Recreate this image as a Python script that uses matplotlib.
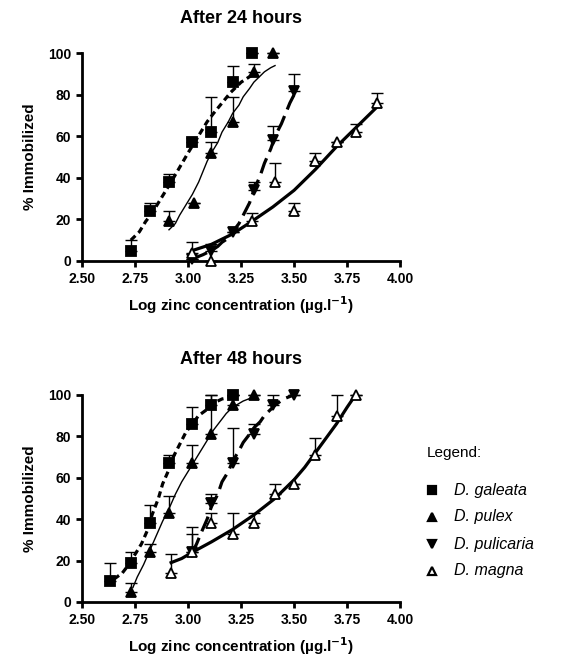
import matplotlib.pyplot as plt

plt.rcParams['font.family'] = ['Liberation Sans', 'DejaVu Sans']

species = ["D. galeata", "D. pulex", "D. pulicaria", "D. magna"]

# ---- After 24 hours: observed points (x, % immobilized, upper error) ----
g24_x = [2.73, 2.82, 2.91, 3.02, 3.11, 3.21, 3.30]
g24_y = [5, 24, 38, 57, 62, 86, 100]
g24_e = [5, 4, 4, 2, 17, 8, 0]
p24_x = [2.91, 3.03, 3.11, 3.21, 3.31, 3.40]
p24_y = [19, 28, 52, 67, 91, 100]
p24_e = [5, 0, 5, 12, 4, 0]
pc24_x = [3.02, 3.11, 3.21, 3.31, 3.40, 3.50]
pc24_y = [1, 5, 14, 34, 58, 82]
pc24_e = [0, 3, 0, 4, 7, 8]
m24_x = [3.02, 3.11, 3.30, 3.41, 3.50, 3.60, 3.70, 3.79, 3.89]
m24_y = [4, 0, 19, 38, 24, 48, 57, 62, 76]
m24_e = [5, 0, 4, 9, 4, 4, 0, 4, 5]

# fitted curves
g24_cx = [2.73, 2.77, 2.80, 2.83, 2.86, 2.89, 2.92, 2.96, 3.00, 3.03, 3.06, 3.09, 3.12, 3.16, 3.20, 3.25, 3.31]
g24_cy = [10, 14, 19, 23, 28, 33, 38, 45, 52, 57, 62, 67, 71, 76, 81, 86, 90]
p24_cx = [2.91, 2.94, 2.96, 2.99, 3.02, 3.05, 3.07, 3.09, 3.11, 3.14, 3.16, 3.19, 3.21, 3.24, 3.26, 3.29, 3.31, 3.34, 3.36, 3.39, 3.41]
p24_cy = [15, 18, 22, 27, 32, 38, 43, 48, 52, 57, 62, 67, 71, 75, 79, 83, 86, 89, 91, 93, 94]
pc24_cx = [3.02, 3.07, 3.11, 3.14, 3.16, 3.19, 3.21, 3.24, 3.26, 3.29, 3.31, 3.34, 3.36, 3.39, 3.41, 3.44, 3.46, 3.48, 3.50]
pc24_cy = [1, 3, 5, 7, 9, 11, 14, 18, 22, 28, 34, 41, 47, 54, 60, 66, 71, 76, 80]
m24_cx = [3.02, 3.11, 3.21, 3.30, 3.40, 3.50, 3.60, 3.70, 3.80, 3.89]
m24_cy = [5, 8, 13, 19, 26, 34, 44, 55, 65, 74]

# ---- After 48 hours ----
g48_x = [2.63, 2.73, 2.82, 2.91, 3.02, 3.11, 3.21]
g48_y = [10, 19, 38, 67, 86, 95, 100]
g48_e = [9, 5, 9, 4, 8, 5, 0]
p48_x = [2.73, 2.82, 2.91, 3.02, 3.11, 3.21, 3.31]
p48_y = [5, 24, 43, 67, 81, 95, 100]
p48_e = [4, 4, 8, 9, 19, 5, 0]
pc48_x = [3.02, 3.11, 3.21, 3.31, 3.40, 3.50]
pc48_y = [24, 48, 67, 81, 95, 100]
pc48_e = [12, 4, 17, 5, 5, 0]
m48_x = [2.92, 3.02, 3.11, 3.21, 3.31, 3.41, 3.50, 3.60, 3.70, 3.79]
m48_y = [14, 24, 38, 33, 38, 52, 57, 71, 90, 100]
m48_e = [9, 9, 5, 10, 5, 5, 0, 8, 10, 0]

g48_cx = [2.65, 2.69, 2.72, 2.75, 2.78, 2.81, 2.83, 2.86, 2.88, 2.91, 2.93, 2.96, 2.99, 3.02, 3.05, 3.09, 3.12, 3.16, 3.21]
g48_cy = [11, 14, 18, 23, 28, 35, 42, 50, 57, 64, 70, 76, 82, 86, 90, 93, 96, 98, 99]
p48_cx = [2.74, 2.76, 2.79, 2.82, 2.85, 2.88, 2.91, 2.94, 2.97, 3.00, 3.03, 3.06, 3.09, 3.12, 3.15, 3.18, 3.21, 3.26, 3.31]
p48_cy = [7, 12, 18, 25, 32, 39, 45, 52, 58, 63, 68, 73, 78, 83, 87, 91, 94, 97, 99]
pc48_cx = [3.02, 3.04, 3.06, 3.09, 3.11, 3.14, 3.16, 3.19, 3.21, 3.24, 3.26, 3.29, 3.31, 3.34, 3.36, 3.39, 3.41, 3.45, 3.50]
pc48_cy = [24, 28, 33, 40, 46, 52, 58, 63, 68, 73, 77, 81, 84, 87, 90, 93, 95, 98, 100]
m48_cx = [2.92, 2.97, 3.02, 3.11, 3.21, 3.31, 3.41, 3.50, 3.55, 3.60, 3.65, 3.70, 3.75, 3.79]
m48_cy = [19, 21, 24, 29, 35, 42, 50, 59, 65, 72, 79, 86, 94, 100]

x_ticks = [2.50, 2.75, 3.00, 3.25, 3.50, 3.75, 4.00]
y_ticks = [0, 20, 40, 60, 80, 100]

markers = ["s", "^", "v", "^"]
sizes = [6.5, 7.5, 7.5, 7.5]
faces = ["black", "black", "black", "white"]
line_styles = [(0, (2, 1.3)), "-", (0, (5, 2.2)), "-"]
line_widths = [2.3, 1.0, 2.3, 2.3]


def draw_panel(ax, pts, curves, title):
    for i, ((x, y, e), (cx, cy)) in enumerate(zip(pts, curves)):
        ax.plot(cx, cy, color="black", linestyle=line_styles[i],
                linewidth=line_widths[i], zorder=2, clip_on=False)
        ax.errorbar(x, y, yerr=[[0] * len(e), e], fmt="none", ecolor="black",
                    elinewidth=1.0, capsize=4, capthick=1.0, zorder=3, clip_on=False)
        ax.plot(x, y, linestyle="none", marker=markers[i], markersize=sizes[i],
                markerfacecolor=faces[i], markeredgecolor="black",
                markeredgewidth=1.3, zorder=4, clip_on=False)
    ax.set_xlim(2.50, 4.00)
    ax.set_ylim(0, 100)
    ax.set_xticks(x_ticks)
    ax.set_xticklabels([f"{t:.2f}" for t in x_ticks], fontweight="bold")
    ax.set_yticks(y_ticks)
    ax.set_yticklabels([str(t) for t in y_ticks], fontweight="bold")
    ax.tick_params(axis="both", labelsize=10, width=2, length=4, direction="out", pad=4)
    for s in ["top", "right"]:
        ax.spines[s].set_visible(False)
    for s in ["left", "bottom"]:
        ax.spines[s].set_linewidth(2)
    ax.set_title(title, fontsize=13, fontweight="bold", pad=22)
    ax.set_ylabel("% Immobilized", fontsize=11, fontweight="bold", labelpad=8)
    ax.set_xlabel(r"Log zinc concentration (µg.l$^{\mathbf{-1}}$)",
                  fontsize=11, fontweight="bold", labelpad=6)


fig = plt.figure(figsize=(5.62, 6.64), dpi=100)
ax1 = fig.add_axes([0.146, 0.607, 0.566, 0.313])
ax2 = fig.add_axes([0.146, 0.0934, 0.566, 0.312])

draw_panel(ax1,
           [(g24_x, g24_y, g24_e), (p24_x, p24_y, p24_e),
            (pc24_x, pc24_y, pc24_e), (m24_x, m24_y, m24_e)],
           [(g24_cx, g24_cy), (p24_cx, p24_cy), (pc24_cx, pc24_cy), (m24_cx, m24_cy)],
           "After 24 hours")
draw_panel(ax2,
           [(g48_x, g48_y, g48_e), (p48_x, p48_y, p48_e),
            (pc48_x, pc48_y, pc48_e), (m48_x, m48_y, m48_e)],
           [(g48_cx, g48_cy), (p48_cx, p48_cy), (pc48_cx, pc48_cy), (m48_cx, m48_cy)],
           "After 48 hours")

# legend block at the right of the lower panel
fig.text(427 / 562, 1 - 453 / 664, "Legend:", fontsize=11, va="center")
for i, name in enumerate(species):
    yy = 1 - (490 + 27 * i) / 664
    fig.lines.append(plt.Line2D([432 / 562], [yy], transform=fig.transFigure,
                                marker=markers[i], markersize=6 if i else 5.5,
                                markerfacecolor=faces[i], markeredgecolor="black",
                                markeredgewidth=1.6, linestyle="none"))
    fig.text(454 / 562, yy, name, fontsize=11.5, style="italic", va="center")

fig.savefig("out.png", dpi=100)
